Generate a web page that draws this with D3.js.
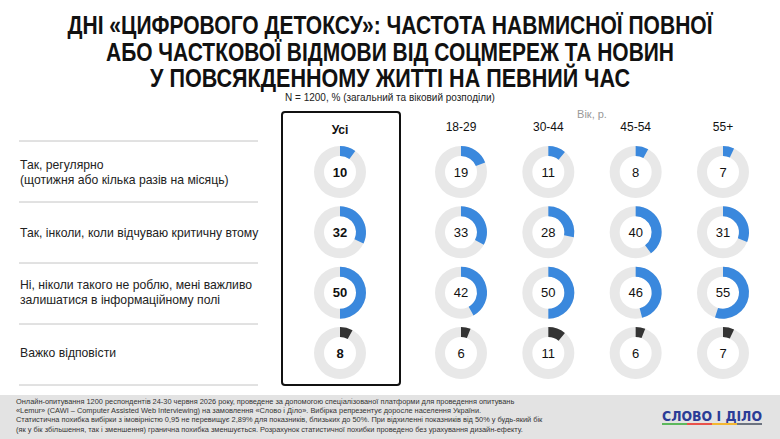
<!DOCTYPE html>
<html>
<head>
<meta charset="utf-8">
<script src="https://cdn.jsdelivr.net/npm/d3@7"></script>
<style>
  body { margin: 0; background: #fff; }
  svg { display: block; font-family: "Liberation Sans", Arial, sans-serif; }
</style>
</head>
<body>
<div id="chart"></div>
<script>
var svgWidth = 780;
var svgHeight = 439;

// data
var titleLines = [
  "ДНІ «ЦИФРОВОГО ДЕТОКСУ»: ЧАСТОТА НАВМИСНОЇ ПОВНОЇ",
  "АБО ЧАСТКОВОЇ ВІДМОВИ ВІД СОЦМЕРЕЖ ТА НОВИН",
  "У ПОВСЯКДЕННОМУ ЖИТТІ НА ПЕВНИЙ ЧАС"
];
var subtitle = "N = 1200, % (загальний та віковий розподіли)";
var answers = [
  ["Так, регулярно", "(щотижня або кілька разів на місяць)"],
  ["Так, інколи, коли відчуваю критичну втому"],
  ["Ні, ніколи такого не роблю, мені важливо", "залишатися в інформаційному полі"],
  ["Важко відповісти"]
];
var totalLabel = "Усі";
var totalValues = [10, 32, 50, 8];
var ageGroups = ["18-29", "30-44", "45-54", "55+"];
var ageValues = [
  [19, 33, 42, 6],
  [11, 28, 50, 11],
  [8, 40, 46, 6],
  [7, 31, 55, 7]
];
var footnote = [
  "Онлайн-опитування 1200 респондентів 24-30 червня 2026 року, проведене за допомогою спеціалізованої платформи для проведення опитувань",
  "«Lemur» (CAWI – Computer Assisted Web Interviewing) на замовлення «Слово і Діло». Вибірка репрезентує доросле населення України.",
  "Статистична похибка вибірки з імовірністю 0,95 не перевищує 2,89% для показників, близьких до 50%. При відхиленні показників від 50% у будь-який бік",
  "(як у бік збільшення, так і зменшення) гранична похибка зменшується. Розрахунок статистичної похибки проведено без урахування дизайн-ефекту."
];

var svg = d3.select("#chart")
  .append("svg")
  .attr("width", svgWidth)
  .attr("height", svgHeight);

// title
var titleWidths = [645, 568, 480];
svg.selectAll(".title")
  .data(titleLines)
  .enter()
  .append("text")
  .attr("class", "title")
  .attr("x", svgWidth / 2)
  .attr("y", (d, i) => 34 + i * 26.5)
  .attr("text-anchor", "middle")
  .attr("font-size", "26px")
  .attr("font-weight", "bold")
  .attr("fill", "#111")
  .attr("textLength", (d, i) => titleWidths[i])
  .attr("lengthAdjust", "spacingAndGlyphs")
  .text(d => d);

svg.append("text")
  .attr("x", svgWidth / 2)
  .attr("y", 101)
  .attr("text-anchor", "middle")
  .attr("font-size", "10px")
  .attr("fill", "#222")
  .text(subtitle);

// scales
var rowScale = d3.scalePoint()
  .domain(d3.range(answers.length))
  .range([172, 353]);

var ageScale = d3.scalePoint()
  .domain(ageGroups)
  .range([461, 723]);

var totalX = 340;
var outerR = 26, innerR = 16;

var arc = d3.arc().innerRadius(innerR).outerRadius(outerR);

// row labels and separators
var sepY = [141, 202, 263, 324, 385];
svg.selectAll(".sep")
  .data(sepY)
  .enter()
  .append("line")
  .attr("x1", 19)
  .attr("x2", 258)
  .attr("y1", d => d)
  .attr("y2", d => d)
  .attr("stroke", "#c4c4c4")
  .attr("stroke-width", 1);

answers.forEach(function(lines, i) {
  var t = svg.append("text")
    .attr("x", 20)
    .attr("y", rowScale(i) - (lines.length - 1) * 7.5)
    .attr("font-size", "12.2px")
    .attr("fill", "#222");
  lines.forEach(function(l, j) {
    t.append("tspan")
      .attr("x", 20)
      .attr("dy", j === 0 ? "0.35em" : 15)
      .text(l);
  });
});

// highlight box for the total column
svg.append("rect")
  .attr("x", 282)
  .attr("y", 112)
  .attr("width", 118)
  .attr("height", 273)
  .attr("rx", 3)
  .attr("fill", "none")
  .attr("stroke", "#111")
  .attr("stroke-width", 2);

// headers
svg.append("text")
  .attr("x", 592)
  .attr("y", 118)
  .attr("text-anchor", "middle")
  .attr("font-size", "11px")
  .attr("fill", "#999")
  .text("Вік, р.");

svg.append("text")
  .attr("x", totalX)
  .attr("y", 134)
  .attr("text-anchor", "middle")
  .attr("font-size", "12px")
  .attr("font-weight", "bold")
  .attr("fill", "#111")
  .text(totalLabel);

svg.selectAll(".age-head")
  .data(ageGroups)
  .enter()
  .append("text")
  .attr("x", d => ageScale(d))
  .attr("y", 131)
  .attr("text-anchor", "middle")
  .attr("font-size", "12px")
  .attr("fill", "#111")
  .text(d => d);

// donuts
function drawColumn(cx, values, bold) {
  values.forEach(function(v, i) {
    var g = svg.append("g")
      .attr("transform", `translate(${cx}, ${rowScale(i)})`);
    g.append("path")
      .attr("d", arc({ startAngle: 0, endAngle: 2 * Math.PI }))
      .attr("fill", "#e8e8e8");
    g.append("path")
      .attr("d", arc({ startAngle: 0, endAngle: v / 100 * 2 * Math.PI }))
      .attr("fill", i === answers.length - 1 ? "#333333" : "#3a88dd");
    g.append("text")
      .attr("text-anchor", "middle")
      .attr("dy", "0.36em")
      .attr("font-size", "13px")
      .attr("font-weight", bold ? "bold" : "normal")
      .attr("fill", "#111")
      .text(v);
  });
}

drawColumn(totalX, totalValues, true);
ageGroups.forEach(function(a, k) {
  drawColumn(ageScale(a), ageValues[k], false);
});

// footer
svg.append("rect")
  .attr("x", 0)
  .attr("y", 395)
  .attr("width", svgWidth)
  .attr("height", svgHeight - 395)
  .attr("fill", "#e3e3e3");

svg.selectAll(".foot")
  .data(footnote)
  .enter()
  .append("text")
  .attr("x", 16)
  .attr("y", (d, i) => 404 + i * 9.2)
  .attr("font-size", "7.4px")
  .attr("fill", "#333")
  .text(d => d);

// logo
svg.append("text")
  .attr("x", 662)
  .attr("y", 421)
  .attr("font-size", "14px")
  .attr("font-weight", "bold")
  .attr("font-family", "'DejaVu Sans', sans-serif")
  .attr("fill", "#2b3c97")
  .attr("textLength", 100)
  .attr("lengthAdjust", "spacingAndGlyphs")
  .text("СЛОВО І ДІЛО");

var logoColors = ["#5cb85c", "#e9524a", "#f4b731", "#6c7380"];
svg.selectAll(".logo-bar")
  .data(logoColors)
  .enter()
  .append("rect")
  .attr("x", (d, i) => 662 + i * 25)
  .attr("y", 423)
  .attr("width", 25)
  .attr("height", 2)
  .attr("fill", d => d);
</script>
</body>
</html>
